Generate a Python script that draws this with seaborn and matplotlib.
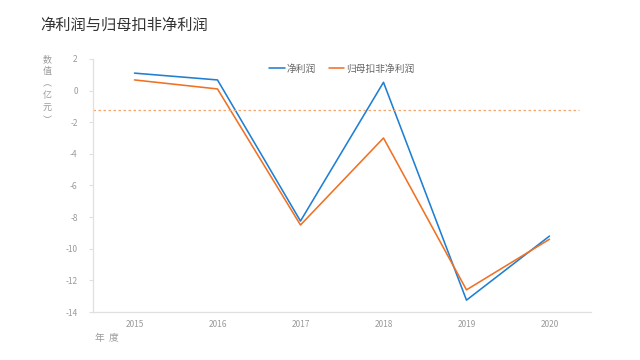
import matplotlib
matplotlib.use("Agg")
import matplotlib.pyplot as plt
import seaborn as sns
import pandas as pd
from matplotlib.ticker import FixedLocator

years = ["2015", "2016", "2017", "2018", "2019", "2020"]
net_profit = [1.1, 0.67, -8.25, 0.52, -13.25, -9.2]
deducted_profit = [0.67, 0.1, -8.5, -3.0, -12.6, -9.4]
series_names = ["净利润", "归母扣非净利润"]
ref_line = -1.2
y_ticks = [2, 0, -2, -4, -6, -8, -10, -12, -14]

sns.set_theme(style="white")
plt.rcParams["font.family"] = ["Noto Sans CJK SC", "DejaVu Sans"]

df = pd.DataFrame({
    "年度": years * 2,
    "数值": net_profit + deducted_profit,
    "系列": [series_names[0]] * len(years) + [series_names[1]] * len(years),
})

fig = plt.figure(figsize=(6.4, 3.6), dpi=100)
ax = fig.add_axes([0.1453, 0.1333, 0.7781, 0.7031])

palette = {series_names[0]: "#1f7fd3", series_names[1]: "#f07124"}
sns.lineplot(data=df, x="年度", y="数值", hue="系列", palette=palette,
             linewidth=1.15, ax=ax, sort=False)

ax.axhline(ref_line, color="#f7a56a", linestyle=(0, (2, 2)), linewidth=0.9,
           xmin=0, xmax=0.975)

ax.set_xlim(-0.5, len(years) - 0.5)
ax.set_ylim(-14, 2)
ax.set_yticks(y_ticks)
ax.set_yticklabels([str(v) for v in y_ticks])
ax.set_xticks(range(len(years)))
ax.set_xticklabels(years)
ax.xaxis.set_minor_locator(FixedLocator([i - 0.5 for i in range(len(years) + 1)]))

for s in ["top", "right"]:
    ax.spines[s].set_visible(False)
for s in ["left", "bottom"]:
    ax.spines[s].set_color("#e0e0e0")
    ax.spines[s].set_linewidth(0.9)

ax.tick_params(axis="x", which="major", length=0, labelsize=6, colors="#9a9a9a", pad=6)
ax.tick_params(axis="x", which="minor", length=3, color="#e0e0e0", width=0.8)
ax.tick_params(axis="y", length=3, color="#e0e0e0", width=0.8, labelsize=6,
               colors="#9a9a9a", pad=8)
ax.tick_params(axis="y", which="major", left=True)
ax.set_xlabel("")
ax.set_ylabel("")

leg = ax.legend(loc="upper center", bbox_to_anchor=(0.5, 1.0), ncol=2, frameon=False,
                fontsize=7, handlelength=1.6, handletextpad=0.2, columnspacing=1.3,
                borderaxespad=0.1)
for t in leg.get_texts():
    t.set_color("#666666")

fig.text(40 / 640, 1 - 25 / 360, "净利润与归母扣非净利润", fontsize=11, color="#333333",
         ha="left", va="center")
fig.text(47 / 640, 1 - 55 / 360, "数\n值\n︵\n亿\n元\n︶", fontsize=6.5, color="#9a9a9a",
         ha="center", va="top", linespacing=1.45)
fig.text(95 / 640, 1 - 338 / 360, "年  度", fontsize=7, color="#9a9a9a",
         ha="left", va="center")

fig.savefig("out.png", dpi=100)
